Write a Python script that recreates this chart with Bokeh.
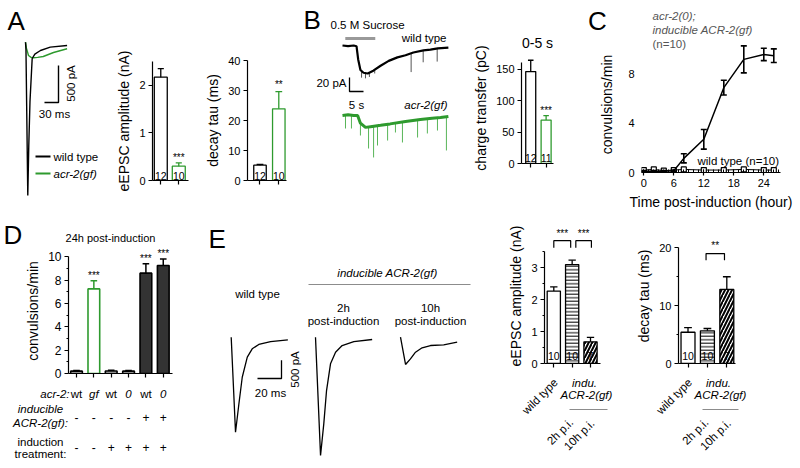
import math
from bokeh.plotting import figure
from bokeh.models import Label, FixedTicker, Range1d, Title
from bokeh.layouts import row, column
from bokeh.embed import file_html
from bokeh.resources import INLINE

FONT = "Liberation Sans"
GREEN = "#2e9a2e"
SPIKE_GREEN = "#58b558"
GRAY = "#8c8c8c"

# ---------------- data ----------------
# Panel A: evoked EPSC traces (time in ms, current in pA)
A_WT_T = [0, 1, 4.9, 7.0, 9.6, 14.3, 20, 32, 53, 89]
A_WT_I = [0, -100, -2070, -1400, -800, -220, -160, -112, -67, -45]
A_GF_T = [0, 2, 6.4, 12, 17, 26, 38, 60, 89]
A_GF_I = [0, -80, -180, -205, -210, -205, -193, -139, -89]
A_N = ["12", "10"]
A_AMP = [2.17, 0.30]          # nA
A_AMP_SEM = [0.18, 0.07]
A_TAU = [5.1, 23.9]           # ms
A_TAU_SEM = [0.25, 5.7]

# Panel B: sucrose-evoked currents (time in s, current in pA)
SUCROSE_S = [1.0, 11.7]
B_WT_T = [0, 2, 4, 5, 5.6, 6.4, 7.5, 9, 11, 13.6, 16.5, 19.6, 22.5, 25.3, 28.9, 31.4, 34, 37.8]
B_WT_I = [0, -1, 0, -1, -20, -35, -39, -40, -36, -29, -22, -17, -14, -10, -7, -6, -4, -3]
B_WT_SPK_T = [6.8, 8.2, 9.6, 11.5, 24.5, 28.8, 33.8]
B_WT_SPK_BASE = [-37, -39, -39, -35, -12, -7, -4]
B_WT_SPK_TIP = [-46, -47, -45, -40, -38, -24, -23]
B_GF_T = [0, 2, 4, 5.4, 6.4, 8.2, 10, 13.6, 17, 22.5, 27.8, 32, 35, 37.8]
B_GF_I = [0, 1, 0, 0, -11, -17, -16, -14, -12, -8.6, -5.7, -4, -3, -1.4]
B_GF_SPK_T = [1.07, 3.2, 6.4, 9.3, 11.1, 12.5, 16.1, 18.9, 21.4, 26.8, 30.3, 33.9, 37.1]
B_GF_SPK_BASE = [0, 0, -11, -16.5, -15.5, -14.5, -12.5, -11, -9.3, -6, -4.5, -3.3, -2]
B_GF_SPK_TIP = [-18.6, -18.6, -28.6, -47.2, -60, -42.9, -35.8, -24.3, -38.6, -31.5, -25.7, -21.5, -50]
B_N = ["12", "11"]
B_CHARGE = [146, 69]          # pC
B_CHARGE_SEM = [18, 7]

# Panel C: convulsions after induction
C_TIME = [0, 2, 4, 6, 8, 12, 16, 20, 24, 26]
C_INDUCED = [0.1, 0.1, 0.1, 0.15, 1.15, 2.7, 6.9, 9.2, 9.6, 9.5]
C_INDUCED_SEM = [0.05, 0.05, 0.05, 0.05, 0.37, 0.8, 0.6, 1.1, 0.5, 0.55]
C_WT = [0.2, 0.25, 0.15, 0.2, 0.25, 0.2, 0.2, 0.25, 0.2, 0.2]

# Panel D: convulsions 24h post-induction
D_ACR2 = ["wt", "gf", "wt", "0", "wt", "0"]
D_INDUCIBLE = ["-", "-", "-", "-", "+", "+"]
D_TREATMENT = ["-", "-", "+", "+", "+", "+"]
D_CONV = [0.2, 7.25, 0.22, 0.2, 8.6, 9.25]
D_CONV_SEM = [0.05, 0.7, 0.05, 0.05, 0.8, 0.55]
D_SIG = ["", "***", "", "", "***", "***"]

# Panel E: traces (time ms, current pA) and bars
E_WT_T = [0, 3.6, 6.4, 9.2, 13.4, 17.5, 23, 32.8, 47.2]
E_WT_I = [0, -2594, -1823, -1094, -546, -317, -199, -118, -71]
E_2H_T = [0, 4.2, 6.9, 9.2, 12.5, 16.7, 22.2, 31.9, 47.2]
E_2H_I = [0, -3230, -2366, -1456, -727, -410, -228, -118, -63]
E_10H_T = [0, 4.2, 8.3, 12.5, 18, 25, 36, 47.2]
E_10H_I = [0, -745, -592, -410, -290, -227, -207, -137]
E_GROUPS = ["wild type", "2h p.i.", "10h p.i."]
E_N = ["10", "10", "7"]
E_AMP = [2.27, 3.10, 0.68]
E_AMP_SEM = [0.13, 0.14, 0.14]
E_TAU = [5.4, 5.65, 12.8]
E_TAU_SEM = [0.8, 0.4, 2.2]


# ---------------- helpers ----------------
def span(p0, p1, anchor_px, anchor_val, per_px):
    """Data range for pixels p0..p1 given one anchor and the data units per pixel."""
    return (anchor_val + (p0 - anchor_px) * per_px, anchor_val + (p1 - anchor_px) * per_px)


class Panel:
    """A tile of the page (pixel coords) with a frame and data ranges.
    Without explicit ranges the tile uses pixel coordinates (y downwards)."""
    def __init__(self, tile, xr=None, yr=None, frame=None):
        x0, y0, x1, y1 = tile
        axes = frame is not None
        if frame is None:
            frame = (x0, x1, y0, y1)
        if xr is None:
            xr = (x0, x1)
        if yr is None:
            yr = (y1, y0)
        fx0, fx1, fy0, fy1 = frame
        self.frame = frame
        self.xr, self.yr = xr, yr
        kw = {} if axes else dict(x_axis_location=None, y_axis_location=None)
        p = figure(width=x1 - x0, height=y1 - y0,
                   x_range=Range1d(*xr), y_range=Range1d(*yr),
                   min_border_left=fx0 - x0, min_border_right=x1 - fx1,
                   min_border_top=fy0 - y0, min_border_bottom=y1 - fy1,
                   output_backend="svg", toolbar_location=None, title=None, **kw)
        p.frame_align = False
        p.outline_line_color = None
        p.grid.visible = False
        p.background_fill_color = "white"
        p.border_fill_color = "white"
        self.p = p

    def X(self, px):
        fx0, fx1, _, _ = self.frame
        return self.xr[0] + (px - fx0) * (self.xr[1] - self.xr[0]) / (fx1 - fx0)

    def Y(self, py):
        _, _, fy0, fy1 = self.frame
        return self.yr[0] + (fy1 - py) * (self.yr[1] - self.yr[0]) / (fy1 - fy0)

    def PX(self, x):
        fx0, fx1, _, _ = self.frame
        return fx0 + (x - self.xr[0]) * (fx1 - fx0) / (self.xr[1] - self.xr[0])

    def txt(self, x, y, s, size=11.5, align="center", baseline="middle",
            style="normal", color="black", angle=0.0):
        self.p.add_layout(Label(x=x, y=y, text=s, text_font=FONT,
                                text_font_size=f"{size}px", text_align=align,
                                text_baseline=baseline, text_font_style=style,
                                text_color=color, angle=angle))

    def ptxt(self, px, py, s, **kw):
        self.txt(self.X(px), self.Y(py), s, **kw)


def style_axis(ax, size="11px"):
    ax.axis_line_color = "black"
    ax.axis_line_width = 1.2
    ax.major_tick_line_color = "black"
    ax.major_tick_line_width = 1.2
    ax.minor_tick_line_color = "black"
    ax.minor_tick_line_width = 1.0
    ax.major_tick_in = 0
    ax.major_tick_out = 4
    ax.minor_tick_in = 0
    ax.minor_tick_out = 2
    ax.major_label_text_font = FONT
    ax.major_label_text_font_size = size
    ax.major_label_text_color = "black"
    ax.major_label_standoff = 3
    ax.axis_label_text_font = FONT
    ax.axis_label_text_font_size = "14px"
    ax.axis_label_text_font_style = "normal"
    ax.axis_label_text_color = "black"
    ax.axis_label_standoff = 4


def bar_axes(pn, yticks, yminor, ybound, ylabel, nbars):
    p = pn.p
    ya, xa = p.yaxis[0], p.xaxis[0]
    style_axis(ya)
    style_axis(xa)
    ya.ticker = FixedTicker(ticks=yticks, minor_ticks=yminor)
    ya.bounds = ybound
    ya.axis_label = ylabel
    # bar positions marked by unlabeled ticks
    xa.ticker = FixedTicker(ticks=[], minor_ticks=list(range(nbars)))
    xa.minor_tick_out = 4
    xa.minor_tick_line_width = 1.2


def errbars(p, xs, tops, errs, half, color, lw=1.3, both=False):
    up = [t + e for t, e in zip(tops, errs)]
    lo = [t - e for t, e in zip(tops, errs)] if both else list(tops)
    p.segment(x0=xs, y0=lo, x1=xs, y1=up, line_color=color, line_width=lw)
    p.segment(x0=[x - half for x in xs], y0=up, x1=[x + half for x in xs], y1=up,
              line_color=color, line_width=lw)
    if both:
        p.segment(x0=[x - half for x in xs], y0=lo, x1=[x + half for x in xs], y1=lo,
                  line_color=color, line_width=lw)


# ---------------- Panel A ----------------
a = Panel((0, 0, 100, 218), xr=span(0, 100, 25, 0, 2.14), yr=span(218, 0, 41.7, 0, -13.5))
a.p.line(A_GF_T, A_GF_I, line_color=GREEN, line_width=1.4)
a.p.line(A_WT_T, A_WT_I, line_color="black", line_width=1.4)
cx, cy = a.X(58), a.Y(102)
a.p.line([cx - 30, cx, cx], [cy, cy, cy + 500], line_color="black", line_width=1.4)
a.ptxt(70, 83, "500 pA", angle=math.pi / 2)
a.ptxt(54, 113, "30 ms")
a.p.segment(x0=[a.X(35)] * 2, x1=[a.X(50)] * 2, y0=[a.Y(156), a.Y(173)], y1=[a.Y(156), a.Y(173)],
            line_color=["black", GREEN], line_width=2)
a.ptxt(53, 156, "wild type", align="left")
a.ptxt(53, 173, "acr-2(gf)", align="left", style="italic")
a.ptxt(7, 20, "A", size=26, align="left")

a1 = Panel((100, 0, 192, 218), xr=(-0.46, 1.54), yr=(0, 2.5), frame=(152, 188, 61, 180))
bar_axes(a1, [0, 1, 2], [], (0, 2.5), "eEPSC amplitude (nA)", 2)
a1.p.vbar(x=[0, 1], top=A_AMP, width=0.72, fill_color="white", line_color=["black", GREEN], line_width=1.3)
errbars(a1.p, [0, 1], A_AMP, A_AMP_SEM, 0.17, ["black", GREEN])
for i, n in enumerate(A_N):
    a1.txt(i, a1.Y(175), n, size=10.5)
a1.txt(1, A_AMP[1] + A_AMP_SEM[1] + 0.12, "***", size=10)

a2 = Panel((192, 0, 290, 218), xr=(-0.665, 1.41), yr=(0, 40), frame=(247, 286, 60, 180))
bar_axes(a2, [0, 10, 20, 30, 40], [], (0, 40), "decay tau (ms)", 2)
a2.p.vbar(x=[0, 1], top=A_TAU, width=0.665, fill_color="white", line_color=["black", GREEN], line_width=1.3)
errbars(a2.p, [0, 1], A_TAU, A_TAU_SEM, 0.18, ["black", GREEN])
for i, n in enumerate(A_N):
    a2.txt(i, a2.Y(175), n, size=10.5)
a2.txt(1, A_TAU[1] + A_TAU_SEM[1] + 2.5, "**", size=10)

# ---------------- Panel B ----------------
b = Panel((290, 0, 470, 218), xr=span(290, 470, 342, 0, 0.357), yr=span(218, 0, 45, 0, -1.43))
GF_OFFSET = b.Y(115) - b.Y(45)
b.p.line([SUCROSE_S[0], SUCROSE_S[1]], [b.Y(38)] * 2, line_color="#999999", line_width=3)
b.p.segment(x0=B_WT_SPK_T, x1=B_WT_SPK_T, y0=B_WT_SPK_BASE, y1=B_WT_SPK_TIP, line_color="#555555", line_width=1)
b.p.line(B_WT_T, B_WT_I, line_color="black", line_width=2.2)
b.p.segment(x0=B_GF_SPK_T, x1=B_GF_SPK_T, y0=[v + GF_OFFSET for v in B_GF_SPK_BASE],
            y1=[v + GF_OFFSET for v in B_GF_SPK_TIP], line_color=SPIKE_GREEN, line_width=1)
b.p.line(B_GF_T, [v + GF_OFFSET for v in B_GF_I], line_color=GREEN, line_width=3)
sx, sy = b.X(349), b.Y(91)
b.p.line([sx, sx, sx + 5], [sy + 20, sy, sy], line_color="black", line_width=1.3)
b.ptxt(346, 82, "20 pA", align="right")
b.ptxt(356, 104, "5 s")
b.ptxt(330, 24, "0.5 M Sucrose", align="left")
b.ptxt(446, 37, "wild type", align="right")
b.ptxt(447, 104, "acr-2(gf)", align="right", style="italic")
b.ptxt(303, 19, "B", size=26, align="left")

bb = Panel((470, 0, 560, 218), xr=(-0.6, 1.48), yr=(0, 176.3), frame=(513, 553, 52, 163))
bar_axes(bb, [0, 50, 100, 150], [], (0, 160), "charge transfer (pC)", 2)
bb.p.add_layout(Title(text="0-5 s", align="center", text_font=FONT, text_font_size="14px",
                      text_font_style="normal", text_color="black", standoff=4), "above")
bb.p.vbar(x=[0, 1], top=B_CHARGE, width=0.65, fill_color="white", line_color=["black", GREEN], line_width=1.3)
errbars(bb.p, [0, 1], B_CHARGE, B_CHARGE_SEM, 0.18, ["black", GREEN])
for i, n in enumerate(B_N):
    bb.txt(i, bb.Y(157), n, size=10.5)
bb.txt(1, B_CHARGE[1] + B_CHARGE_SEM[1] + 8, "***", size=10)

# ---------------- Panel C ----------------
ct = Panel((560, 0, 800, 36))
ct.ptxt(597, 20, "C", size=26)
ct.ptxt(652, 15, "acr-2(0);", align="left", style="italic", color="#555555")
ct.ptxt(652, 29, "inducible ACR-2(gf)", align="left", style="italic", color="#555555")

c = Panel((560, 36, 800, 218), xr=(-0.46, 27.34), yr=(0, 11.06), frame=(641, 780, 36, 172))
xa, ya = c.p.xaxis[0], c.p.yaxis[0]
style_axis(xa)
style_axis(ya)
xa.ticker = FixedTicker(ticks=[0, 6, 12, 18, 24], minor_ticks=list(range(0, 28)))
xa.major_tick_in = 3
xa.major_tick_out = 3
xa.minor_tick_in = 3
xa.minor_tick_out = 0
xa.axis_label = "Time post-induction (hour)"
ya.ticker = FixedTicker(ticks=[0, 4, 8], minor_ticks=[])
ya.axis_line_color = None
ya.major_tick_line_color = None
ya.major_tick_out = 0
ya.major_label_standoff = 7
ya.axis_label = "convulsions/min"
ya.axis_label_standoff = 10
c.p.line(C_TIME, C_WT, line_color="black", line_width=1)
c.p.scatter(C_TIME, C_WT, marker="square", size=5, fill_color="white", line_color="black", line_width=1.2)
c.p.line(C_TIME, C_INDUCED, line_color="black", line_width=1.5)
errbars(c.p, C_TIME, C_INDUCED, C_INDUCED_SEM, 0.6, "black", lw=1.6, both=True)
c.ptxt(652, 43, "(n=10)", align="left", color="#555555")
c.ptxt(697, 160, "wild type (n=10)", align="left")

# ---------------- Panel D ----------------
dt = Panel((0, 218, 200, 248))
dt.ptxt(3, 234, "D", size=26, align="left")
dt.ptxt(110, 237, "24h post-induction", size=11)

d = Panel((0, 248, 200, 385), xr=(-0.461, 5.533), yr=(0, 10.71), frame=(68, 172, 248, 373))
bar_axes(d, [0, 2, 4, 6, 8, 10], [1, 3, 5, 7, 9], (0, 10), "convulsions/min", 6)
d.p.yaxis[0].major_label_text_font_size = "12px"
idx = list(range(6))
d_fill = ["#bdbdbd", "white", "#bdbdbd", "#bdbdbd", "#333333", "#333333"]
d_line = ["black", GREEN, "black", "black", "black", "black"]
d.p.vbar(x=idx, top=D_CONV, width=0.675, fill_color=d_fill, line_color=d_line, line_width=1.6)
errbars(d.p, idx, D_CONV, D_CONV_SEM, 0.19, d_line, lw=1.5)
for i in idx:
    if D_SIG[i]:
        d.txt(i, D_CONV[i] + D_CONV_SEM[i] + 0.45, D_SIG[i], size=10)

db = Panel((0, 385, 200, 468))
for i in idx:
    px = d.PX(i)
    db.ptxt(px, 393, D_ACR2[i], style="italic" if D_ACR2[i] in ("gf", "0") else "normal")
    db.ptxt(px, 417, D_INDUCIBLE[i], size=12)
    db.ptxt(px, 447, D_TREATMENT[i], size=12)
db.ptxt(69, 393, "acr-2:", align="right", style="italic")
db.ptxt(40, 408, "inducible", style="italic")
db.ptxt(40, 422, "ACR-2(gf):", style="italic")
db.ptxt(40, 441, "induction")
db.ptxt(40, 453, "treatment:")

# ---------------- Panel E ----------------
e = Panel((200, 218, 480, 468), xr=span(200, 480, 230.7, 0, 0.833), yr=span(468, 218, 336.7, 0, -27.3))
trace_x = [230.7, 315, 400]
for (tt, ii), x0 in zip([(E_WT_T, E_WT_I), (E_2H_T, E_2H_I), (E_10H_T, E_10H_I)], trace_x):
    off = e.X(x0)
    e.p.line([t + off for t in tt], ii, line_color="black", line_width=1.3)
ex, ey = e.X(281), e.Y(378)
e.p.line([ex - 20, ex, ex], [ey, ey, ey + 500], line_color="black", line_width=1.3)
e.p.line([e.X(308), e.X(470)], [e.Y(284)] * 2, line_color=GRAY, line_width=1.2)
e.ptxt(294, 369, "500 pA", angle=math.pi / 2)
e.ptxt(270, 392, "20 ms")
e.ptxt(387, 272, "inducible ACR-2(gf)", style="italic")
e.ptxt(257, 293, "wild type")
e.ptxt(343, 307, "2h")
e.ptxt(343, 320, "post-induction")
e.ptxt(430, 307, "10h")
e.ptxt(430, 320, "post-induction")
e.ptxt(208, 238, "E", size=26, align="left")


def e_bars(pn, vals, sems, half):
    p = pn.p
    xs = [0, 1, 2]
    p.vbar(x=[0], top=[vals[0]], width=0.72, fill_color="white", line_color="black", line_width=1.3)
    p.vbar(x=[1], top=[vals[1]], width=0.72, fill_color="white", line_color="black", line_width=1.3,
           hatch_pattern="horizontal_line", hatch_scale=3.5, hatch_weight=1, hatch_color="black")
    p.vbar(x=[2], top=[vals[2]], width=0.72, fill_color="white", line_color="black", line_width=1.3,
           hatch_pattern="right_diagonal_line", hatch_scale=7, hatch_weight=2, hatch_color="black")
    errbars(p, xs, vals, sems, half, "black")
    for i, n in enumerate(E_N):
        pn.txt(i, pn.Y(355), n, size=10.5)


eb1 = Panel((480, 218, 632, 370), xr=(-0.507, 2.545), yr=(0, 4.232), frame=(544, 600, 228, 363))
bar_axes(eb1, [0, 1, 2, 3], [0.5, 1.5, 2.5, 3.5], (0, 3.5), "eEPSC amplitude (nA)", 3)
e_bars(eb1, E_AMP, E_AMP_SEM, 0.2)
for (x0, x1) in [(0, 0.92), (1.2, 2.05)]:
    eb1.p.line([x0, x0, x1, x1], [3.63, 3.85, 3.85, 3.63], line_color="black", line_width=1.2)
    eb1.txt((x0 + x1) / 2, 4.07, "***", size=10)

eb2 = Panel((632, 218, 800, 370), xr=(-0.49, 2.448), yr=(0, 23.34), frame=(678, 735, 228, 363))
bar_axes(eb2, [0, 10, 20], [5, 15], (0, 20), "decay tau (ms)", 3)
e_bars(eb2, E_TAU, E_TAU_SEM, 0.2)
eb2.p.line([0.93, 0.93, 1.88, 1.88], [17.86, 19.0, 19.0, 17.86], line_color="black", line_width=1.2)
eb2.txt(1.4, 20.45, "**", size=10)

eb1b = Panel((480, 370, 632, 468))
eb2b = Panel((632, 370, 800, 468))
for main, lab, xc, xl0, xl1 in [(eb1, eb1b, 584, 569, 607), (eb2, eb2b, 718, 702, 738)]:
    lab.ptxt(main.PX(0) + 2, 380, E_GROUPS[0], align="right", angle=math.pi / 4)
    lab.ptxt(main.PX(1) - 1, 420, E_GROUPS[1], align="right", angle=math.pi / 4)
    lab.ptxt(main.PX(2) + 2, 421, E_GROUPS[2], align="right", angle=math.pi / 4)
    lab.ptxt(xc, 382, "indu.", style="italic")
    lab.ptxt(xc + 2, 394, "ACR-2(gf)", style="italic")
    lab.p.line([xl0, xl1], [409, 409], line_color=GRAY, line_width=1.2)

top = row(a.p, a1.p, a2.p, b.p, bb.p, column(ct.p, c.p))
bottom = row(column(dt.p, d.p, db.p), e.p, column(eb1.p, eb1b.p), column(eb2.p, eb2b.p))
layout = column(top, bottom)
open("out.html", "w").write(file_html(layout, INLINE))
